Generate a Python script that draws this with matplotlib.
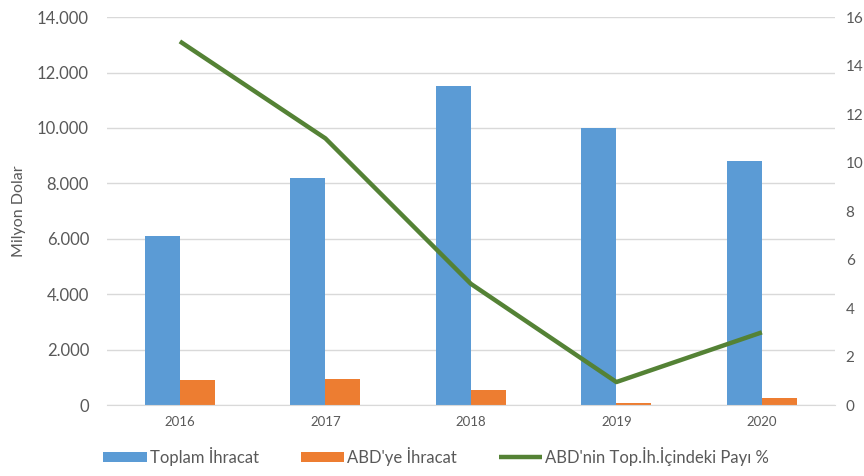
import matplotlib.pyplot as plt
import numpy as np
from matplotlib.ticker import FuncFormatter

plt.rcParams['font.family'] = ['Lato', 'DejaVu Sans']

# Data
years = ['2016', '2017', '2018', '2019', '2020']
toplam_ihracat = [6100, 8200, 11500, 10000, 8800]
abd_ihracat = [900, 950, 550, 70, 260]
abd_payi = [15.0, 11.0, 5.0, 0.95, 3.0]

blue = '#5B9BD5'
orange = '#ED7D31'
green = '#548235'
grey_text = '#595959'
grid_col = '#D9D9D9'

fig = plt.figure(figsize=(8.64, 4.76), dpi=100)
ax = fig.add_axes([0.124, 0.149, 0.842, 0.815])
ax2 = ax.twinx()

x = np.arange(len(years))
w = 0.24
ax.bar(x - w / 2, toplam_ihracat, width=w, color=blue, label='Toplam İhracat', zorder=2)
ax.bar(x + w / 2, abd_ihracat, width=w, color=orange, label="ABD'ye İhracat", zorder=2)
ax2.plot(x, abd_payi, color=green, linewidth=3.2, label="ABD'nin Top.İh.İçindeki Payı %",
         solid_capstyle='butt')

ax.set_xlim(-0.5, len(years) - 0.5)
ax.set_ylim(0, 14000)
ax.set_yticks(range(0, 14001, 2000))
ax.yaxis.set_major_formatter(FuncFormatter(lambda v, p: f'{int(v):,}'.replace(',', '.')))
ax2.set_ylim(0, 16)
ax2.set_yticks(range(0, 17, 2))

ax.grid(axis='y', color=grid_col, linewidth=1, zorder=0)
ax.set_axisbelow(True)
for a in (ax, ax2):
    for s in a.spines.values():
        s.set_visible(False)
ax.spines['bottom'].set_visible(True)
ax.spines['bottom'].set_color(grid_col)

ax.set_xticks(x)
ax.set_xticklabels(years)
ax.tick_params(axis='x', length=0, labelsize=9.5, colors=grey_text, pad=8)
ax.tick_params(axis='y', length=0, labelsize=12, colors=grey_text, pad=13)
ax2.tick_params(axis='y', length=0, labelsize=11, colors=grey_text, pad=8)
ax.set_ylabel('Milyon Dolar', fontsize=11.5, color=grey_text, labelpad=8)

h1, l1 = ax.get_legend_handles_labels()
h2, l2 = ax2.get_legend_handles_labels()
fig.legend(h1 + h2, l1 + l2, loc='lower center', bbox_to_anchor=(0.505, -0.01), ncol=3,
           frameon=False, fontsize=12, handlelength=2.6, handleheight=0.6,
           columnspacing=2.5, handletextpad=0.2, labelcolor=grey_text)

plt.savefig('out.png', dpi=100)
